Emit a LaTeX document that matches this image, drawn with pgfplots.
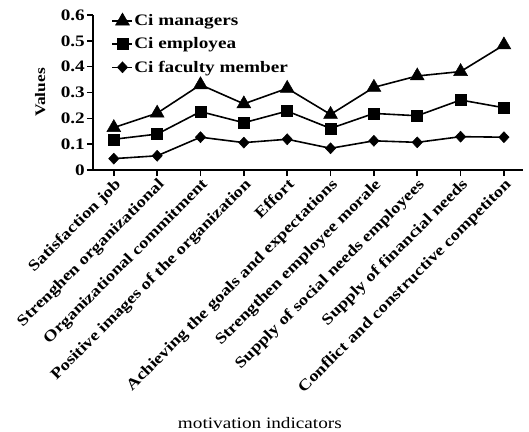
\documentclass[border=0pt]{standalone}
\usepackage{pgfplots}
\pgfplotsset{compat=1.18}
\usepackage{fontspec}
\setmainfont[FakeStretch=1.2]{Liberation Serif}
\begin{document}
\begin{tikzpicture}
\path[use as bounding box] (0pt,0pt) rectangle (529pt,431pt);
\begin{axis}[
  at={(93pt,261pt)}, anchor=south west,
  scale only axis, width=430pt, height=155pt,
  xmin=-0.48, xmax=9.44, ymin=0, ymax=0.6,
  axis x line*=bottom, axis y line*=left,
  axis line style={line width=1.8pt},
  every tick/.style={black, line width=1.6pt},
  tick align=outside, major tick length=6pt,
  xtick={0,...,9},
  xticklabels={Satisfaction job, Strenghen organizational, Organizational commitment, Positive images of the organization, Effort, Achieving the goals and expectations, Strengthen employee morale, Supply of social needs employees, Supply of financial needs, Conflict and constructive competiton},
  xticklabel style={rotate=45, anchor=north east, font=\fontsize{15.5}{17}\selectfont\bfseries, inner sep=1pt},
  ytick={0,0.1,...,0.6},
  yticklabels={0,0.1,0.2,0.3,0.4,0.5,0.6},
  yticklabel style={font=\fontsize{16}{18}\selectfont\bfseries, inner sep=2pt},
  ylabel={Values},
  ylabel style={font=\fontsize{14.5}{16}\selectfont\bfseries, at={(axis description cs:-0.123,0.5)}, anchor=center},
  xlabel={motivation indicators},
  xlabel style={font=\fontsize{16}{18}\selectfont, at={(axis description cs:0.388,-1.632)}, anchor=center},
  legend style={draw=none, fill=none, at={(axis description cs:0.043,1.014)}, anchor=north west, font=\fontsize{16}{18}\selectfont\bfseries, row sep=8.5pt, inner sep=0pt, nodes={inner sep=1pt}},
  legend cell align=left,
  legend image code/.code={\draw[#1, line width=1.6pt] (0pt,0pt) -- (20pt,0pt); \draw[#1, mark repeat=2, mark phase=2, line width=1pt] plot coordinates {(0pt,0pt) (10pt,0pt) (20pt,0pt)};},
  clip=false,
]
\addplot[black, line width=1.6pt, mark=triangle*, mark size=8pt, mark options={solid, line width=0.5pt}] coordinates {
(0,0.164) (1,0.220) (2,0.330) (3,0.256) (4,0.316) (5,0.215) (6,0.320) (7,0.364) (8,0.381) (9,0.484)};
\addlegendentry{Ci managers}
\addplot[black, line width=1.6pt, mark=square*, mark size=5.5pt, mark options={solid, line width=0.5pt}] coordinates {
(0,0.119) (1,0.139) (2,0.226) (3,0.183) (4,0.228) (5,0.161) (6,0.219) (7,0.210) (8,0.271) (9,0.241)};
\addlegendentry{Ci employea}
\addplot[black, line width=1.6pt, mark=diamond*, mark size=5.5pt, mark options={solid, line width=0.5pt, xscale=1.25}] coordinates {
(0,0.044) (1,0.055) (2,0.127) (3,0.106) (4,0.119) (5,0.084) (6,0.113) (7,0.107) (8,0.129) (9,0.127)};
\addlegendentry{Ci faculty member}
\end{axis}
\end{tikzpicture}
\end{document}
